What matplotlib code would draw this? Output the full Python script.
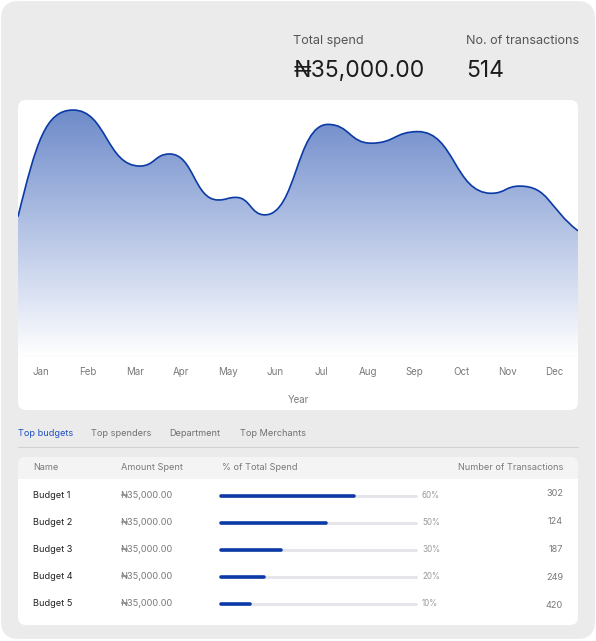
import numpy as np
import matplotlib
matplotlib.use("Agg")
import matplotlib.pyplot as plt
from matplotlib.patches import FancyBboxPatch, Rectangle, PathPatch
from matplotlib.path import Path
from matplotlib.colors import LinearSegmentedColormap

FONT = ["Inter", "DejaVu Sans"]
plt.rcParams["font.family"] = FONT

# --- data -------------------------------------------------------------------
months = ["Jan", "Feb", "Mar", "Apr", "May", "Jun",
          "Jul", "Aug", "Sep", "Oct", "Nov", "Dec"]
# spend curve turning points, x in month index (Jan = 0), y in arbitrary units
spend_x = [-0.5, 0.68, 2.11, 2.75, 3.79, 4.17, 4.79,
           6.14, 7.07, 8.07, 9.64, 10.25, 11.5]
spend_y = [54.6, 96.1, 74.3, 79.0, 61.1, 62.1, 55.3,
           90.5, 83.2, 87.7, 63.7, 66.5, 49.1]

total_spend = "₦35,000.00"
n_transactions = "514"

tabs = ["Top budgets", "Top spenders", "Department", "Top Merchants"]
columns = ["Name", "Amount Spent", "% of Total Spend", "Number of Transactions"]
budgets = ["Budget 1", "Budget 2", "Budget 3", "Budget 4", "Budget 5"]
amounts = ["₦35,000.00"] * 5
pct_labels = [60, 50, 30, 20, 10]
bar_fill = [0.68, 0.54, 0.31, 0.22, 0.15]   # drawn length of progress bars
n_trans = [302, 124, 187, 249, 420]

BLUE = "#0b3aa6"


def curve_verts(x, y, k=0.5):
    """Bezier through turning points: flat handles inside, steep start,
    secant-sloped end (the way the design tool drew it)."""
    n = len(x)
    m = np.zeros(n)
    kk = np.full(n, k)
    m[0] = 2.1 * (y[1] - y[0]) / (x[1] - x[0])
    kk[0] = 1 / 3
    m[-1] = (y[-1] - y[-2]) / (x[-1] - x[-2])
    verts, codes = [(x[0], y[0])], [Path.MOVETO]
    for i in range(n - 1):
        h = x[i + 1] - x[i]
        verts += [(x[i] + kk[i] * h, y[i] + m[i] * kk[i] * h),
                  (x[i + 1] - kk[i + 1] * h, y[i + 1] - m[i + 1] * kk[i + 1] * h),
                  (x[i + 1], y[i + 1])]
        codes += [Path.CURVE4] * 3
    return verts, codes


# --- canvas -----------------------------------------------------------------
W, H = 596, 641
fig = plt.figure(figsize=(W / 100, H / 100), dpi=100)
fig.patch.set_facecolor("white")
bg = fig.add_axes([0, 0, 1, 1])
bg.set_xlim(0, W)
bg.set_ylim(H, 0)
bg.axis("off")

bg.add_patch(FancyBboxPatch((1, 1), 594, 638, boxstyle="round,pad=0,rounding_size=18",
                            facecolor="#ebebeb", edgecolor="none"))
bg.add_patch(FancyBboxPatch((18, 100), 560, 310, boxstyle="round,pad=0,rounding_size=8",
                            facecolor="white", edgecolor="none"))

# header stats
bg.text(293, 41, "Total spend", fontsize=9.1, color="#555", va="center")
bg.text(293, 71, total_spend, fontsize=16.5, color="#1c1c1c", va="center")
bg.text(466, 41, "No. of transactions", fontsize=9.1, color="#555", va="center")
bg.text(466, 71, n_transactions, fontsize=16.5, color="#1c1c1c", va="center")

# --- area chart -------------------------------------------------------------
ax = fig.add_axes([18 / W, 1 - 357 / H, 560 / W, 257 / H])
ax.set_facecolor("none")
ax.set_xlim(-0.5, 11.5)
ax.set_ylim(0, 100)
for s in ax.spines.values():
    s.set_visible(False)
ax.set_yticks([])
ax.set_xticks(range(len(months)))
ax.set_xticklabels(months, fontsize=7, color="#7a7a7a")
ax.tick_params(axis="x", length=0, pad=7)
ax.set_xlabel("Year", fontsize=7, color="#7a7a7a", labelpad=13)

cv, cc = curve_verts(spend_x, spend_y)
fill_path = Path([(spend_x[0], 0)] + cv + [(spend_x[-1], 0), (spend_x[0], 0)],
                 [Path.MOVETO, Path.LINETO] + cc[1:] + [Path.LINETO, Path.CLOSEPOLY])
clip = PathPatch(fill_path, facecolor="none", edgecolor="none")
ax.add_patch(clip)
grad = np.linspace(0, 1, 256).reshape(-1, 1)
cmap = LinearSegmentedColormap.from_list("spend", ["#ffffff", "#b4c3e5", "#6886c7"])
im = ax.imshow(grad, extent=(-0.5, 11.5, 0, 100), origin="lower", cmap=cmap,
               aspect="auto", interpolation="bilinear", zorder=1)
im.set_clip_path(clip)
ax.add_patch(PathPatch(Path(cv, cc), facecolor="none", edgecolor=BLUE, lw=1.2, zorder=3))
ax.axhline(0, color="#eef0f5", lw=1, zorder=2)

# --- tabs -------------------------------------------------------------------
tab_x = [18, 91, 169, 240]
for i, (t, x) in enumerate(zip(tabs, tab_x)):
    bg.text(x, 433, t, fontsize=6.6, color="#1f4fbf" if i == 0 else "#707070", va="center")
bg.plot([18, 578], [447, 447], color="#d2d2d2", lw=0.8)

# --- table ------------------------------------------------------------------
card = FancyBboxPatch((18, 457), 560, 168, boxstyle="round,pad=0,rounding_size=8",
                      facecolor="white", edgecolor="none")
bg.add_patch(card)
hdr = Rectangle((18, 457), 560, 22, facecolor="#f4f4f4", edgecolor="none")
bg.add_patch(hdr)
hdr.set_clip_path(card)

bg.text(33, 468, columns[0], fontsize=6.6, color="#7a7a7a", va="center")
bg.text(121, 468, columns[1], fontsize=6.6, color="#7a7a7a", va="center")
bg.text(222, 468, columns[2], fontsize=6.6, color="#7a7a7a", va="center")
bg.text(563, 468, columns[3], fontsize=6.6, color="#7a7a7a", va="center", ha="right")

row_y = [495.5, 522.5, 549.5, 576.5, 603.5]
x0, x1 = 221, 416
for i, y in enumerate(row_y):
    bg.text(33, y, budgets[i], fontsize=6.6, color="#222", va="center")
    bg.text(121, y, amounts[i], fontsize=6.6, color="#7a7a7a", va="center")
    bg.plot([x0, x1], [y, y], color="#e6e6ea", lw=2.2, solid_capstyle="round")
    bg.plot([x0, x0 + bar_fill[i] * (x1 - x0)], [y, y], color=BLUE, lw=2.6,
            solid_capstyle="round")
    bg.text(x1 + 6, y, f"{pct_labels[i]}%", fontsize=5.8, color="#9a9a9a", va="center")
    bg.text(563, y - 2 + i, str(n_trans[i]), fontsize=6.6, color="#7a7a7a",
            va="center", ha="right")

fig.savefig("out.png", dpi=100)
